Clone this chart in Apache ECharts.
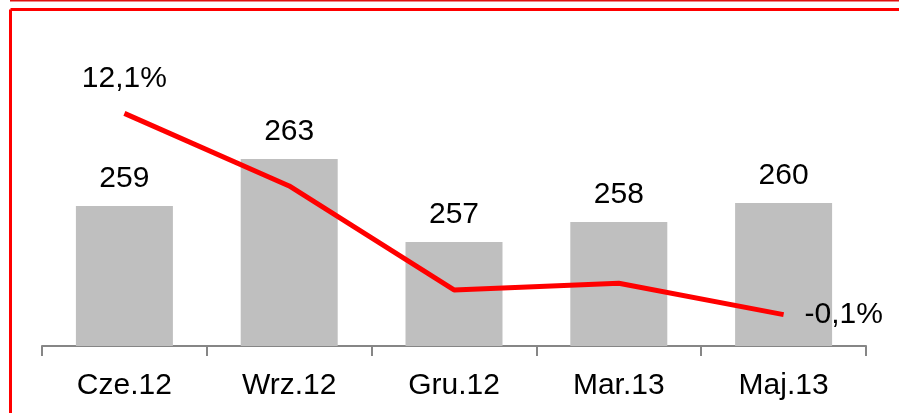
<!DOCTYPE html>
<html>
<head>
<meta charset="utf-8">
<script src="https://cdn.jsdelivr.net/npm/echarts@6/dist/echarts.min.js"></script>
<style>
html,body{margin:0;padding:0;background:#fff;}
#chart{width:899px;height:413px;}
</style>
</head>
<body>
<div id="chart"></div>
<script>
const categories = ['Cze.12', 'Wrz.12', 'Gru.12', 'Mar.13', 'Maj.13'];
const barValues = [259.43, 262.59, 257.0, 258.35, 259.63];
const lineValues = [12.1, 7.7, 1.4, 1.8, -0.1];

const chart = echarts.init(document.getElementById('chart'));
const font = 'Arial, "Liberation Sans", sans-serif';
chart.setOption({
  animation: false,
  backgroundColor: '#ffffff',
  grid: { left: 42, right: 33, top: 49, bottom: 67, containLabel: false },
  xAxis: {
    type: 'category',
    data: categories,
    axisLine: { onZero: false, lineStyle: { color: '#868686', width: 2 } },
    axisTick: { show: true, length: 10, lineStyle: { color: '#868686', width: 2 } },
    axisLabel: { color: '#000', fontSize: 30, fontFamily: font, margin: 25 }
  },
  yAxis: [
    { type: 'value', min: 250, max: 270, show: false, splitLine: { show: false } },
    { type: 'value', min: -2, max: 16, show: false, splitLine: { show: false } }
  ],
  series: [
    {
      type: 'bar',
      data: barValues,
      yAxisIndex: 0,
      barWidth: 97,
      itemStyle: { color: '#bfbfbf' },
      label: {
        show: true, position: 'top', distance: 12,
        color: '#000', fontSize: 30, fontFamily: font,
        formatter: p => String(Math.round(p.value))
      },
      z: 1
    },
    {
      type: 'line',
      data: lineValues,
      yAxisIndex: 1,
      symbol: 'none',
      lineStyle: { color: '#ff0000', width: 5 },
      label: { show: false },
      markPoint: {
        symbol: 'circle', symbolSize: 0,
        label: { color: '#000', fontSize: 30, fontFamily: font },
        data: [
          { coord: [0, lineValues[0]], value: lineValues[0],
            label: { position: 'top', distance: 20, formatter: () => lineValues[0].toFixed(1).replace('.', ',') + '%' } },
          { coord: [4, lineValues[4]], value: lineValues[4],
            label: { position: 'right', distance: 21, formatter: () => lineValues[4].toFixed(1).replace('.', ',') + '%' } }
        ]
      },
      z: 3
    }
  ],
  graphic: [
    { type: 'line', shape: { x1: 10, y1: 0.5, x2: 899, y2: 0.5 }, style: { stroke: '#e01010', lineWidth: 2 }, z: 10 },
    { type: 'line', shape: { x1: 10.5, y1: 9.5, x2: 899, y2: 9.5 }, style: { stroke: '#ff0000', lineWidth: 3 }, z: 10 },
    { type: 'line', shape: { x1: 10.5, y1: 9.5, x2: 10.5, y2: 413 }, style: { stroke: '#ff0000', lineWidth: 3 }, z: 10 }
  ]
});
</script>
</body>
</html>
